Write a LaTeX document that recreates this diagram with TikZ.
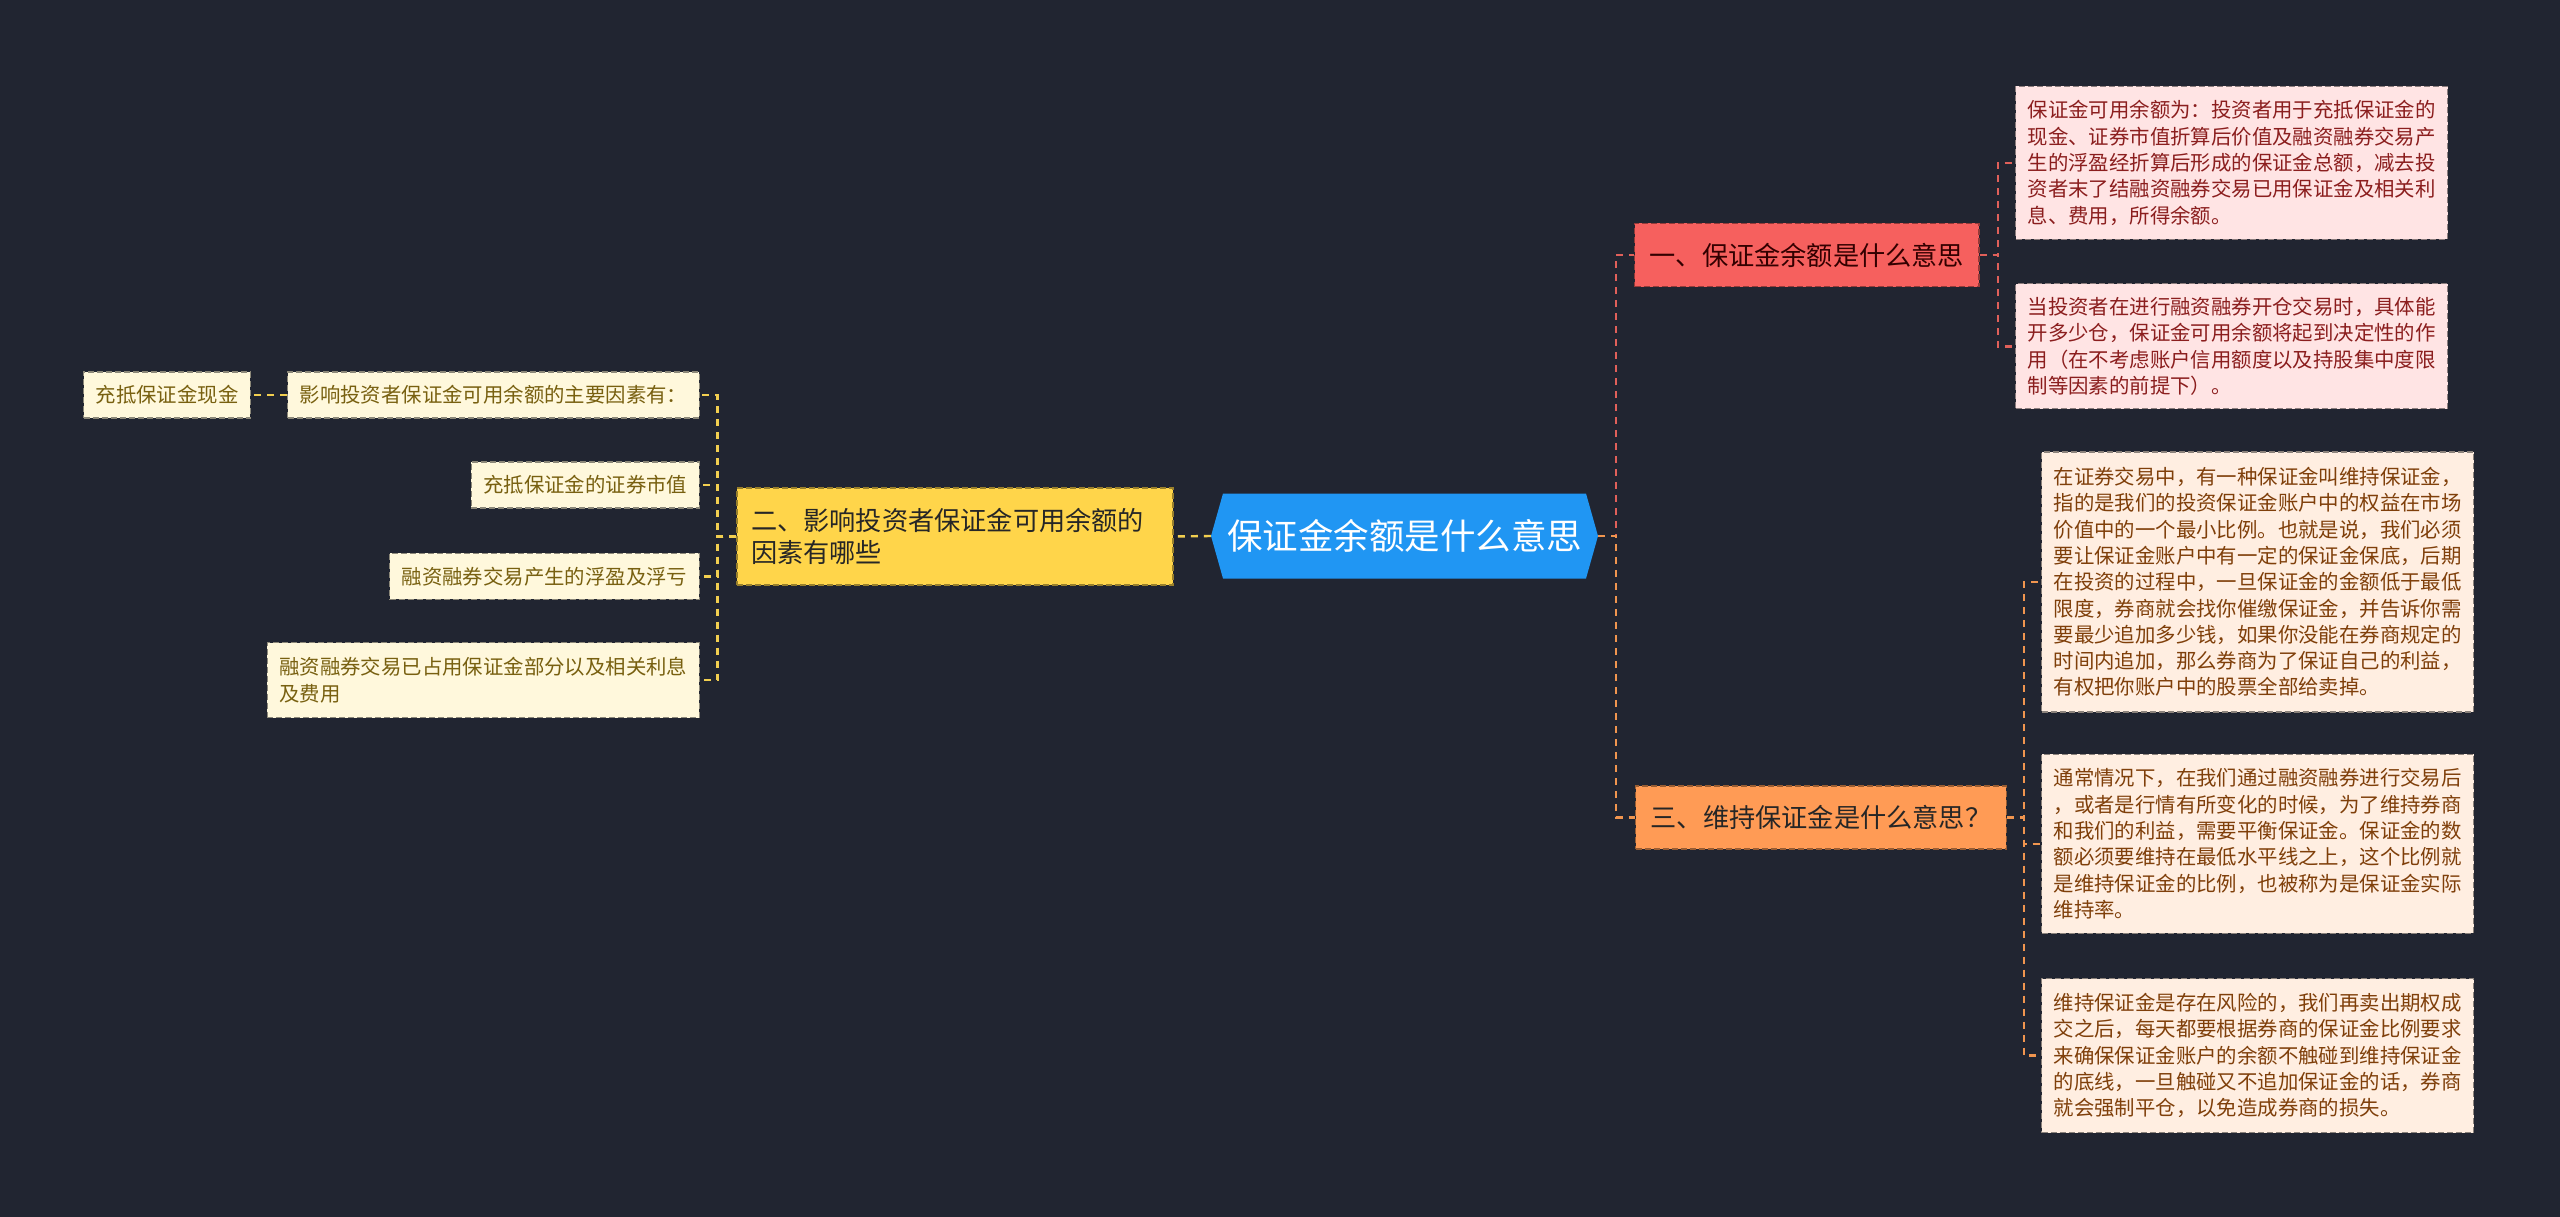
\documentclass[tikz,border=0pt]{standalone}
\usepackage{fontspec}
\setmainfont{Noto Sans CJK SC}
\usetikzlibrary{positioning}

\definecolor{bgcol}{HTML}{212531}
\definecolor{rootblue}{HTML}{2096F3}
\definecolor{redfill}{HTML}{F6605E}
\definecolor{orangefill}{HTML}{FF9B55}
\definecolor{yellowfill}{HTML}{FFD54A}
\definecolor{pinkfill}{HTML}{FFE4E4}
\definecolor{peachfill}{HTML}{FFEEE1}
\definecolor{creamfill}{HTML}{FFF8DC}
\definecolor{pinktext}{HTML}{8B1E1E}
\definecolor{peachtext}{HTML}{7F3F0A}
\definecolor{creamtext}{HTML}{786010}
\definecolor{redline}{HTML}{E0605A}
\definecolor{orangeline}{HTML}{F0954F}
\definecolor{yellowline}{HTML}{F2CF50}

\newcommand{\leaffont}{\fontsize{20.4}{26.3}\selectfont}
\newcommand{\topicfont}{\fontsize{26.2}{32}\selectfont}
\newcommand{\rootfont}{\fontsize{35.5}{40}\selectfont}

\begin{document}
\begin{tikzpicture}[x=1pt, y=-1pt,
        rootbox/.style={rectangle, minimum width=387pt, minimum height=85pt, inner sep=0pt, text=white, font=\rootfont,
            path picture={\fill[rootblue] (path picture bounding box.west) -- ([xshift=12pt]path picture bounding box.north west) -- ([xshift=-12pt]path picture bounding box.north east) -- (path picture bounding box.east) -- ([xshift=-12pt]path picture bounding box.south east) -- ([xshift=12pt]path picture bounding box.south west) -- cycle;}},
        topic/.style={rectangle, draw, dash pattern=on 6pt off 3pt, line width=1.3pt, inner xsep=15pt, inner ysep=0pt, minimum height=63pt, font=\topicfont},
        leaf/.style={rectangle, draw, dash pattern=on 6pt off 3pt, line width=1.3pt, inner xsep=12pt, inner ysep=0pt, align=left, font=\leaffont},
        pinkleaf/.style={leaf, fill=pinkfill, draw=pinkfill!55!black, text=pinktext},
        peachleaf/.style={leaf, fill=peachfill, draw=peachfill!55!black, text=peachtext},
        creamleaf/.style={leaf, fill=creamfill, draw=creamfill!55!black, text=creamtext, minimum height=46pt},
        link/.style={line width=2.4pt, dash pattern=on 7pt off 6pt},
        redlink/.style={link, draw=redline},
        orangelink/.style={link, draw=orangeline},
        yellowlink/.style={link, draw=yellowline}]

    \useasboundingbox (0,0) rectangle (2560,1217);
    \fill[bgcol] (0,0) rectangle (2560,1217);

    % centre
    \node[rootbox] (root) at (1404.5,536) {保证金余额是什么意思};

    % first level
    \node[topic, fill=redfill, draw=redfill!60!black, text=black!80!red, anchor=west] (margin) at (1634,255) {一、保证金余额是什么意思};
    \node[topic, fill=orangefill, draw=orangefill!60!black, text=black!85, anchor=west] (maint) at (1635,817.5) {三、维持保证金是什么意思？};
    \node[topic, fill=yellowfill, draw=yellowfill!60!black, text=black!85, minimum width=436pt, minimum height=97pt, inner xsep=14pt, text width=408pt, align=left] (factor) at (955,536.5) {二、影响投资者保证金可用余额的\\因素有哪些};

    % leaves of the first branch
    \node[pinkleaf, minimum height=153pt, anchor=west] (avail) at (2015,163) {保证金可用余额为：投资者用于充抵保证金的\\现金、证券市值折算后价值及融资融券交易产\\生的浮盈经折算后形成的保证金总额，减去投\\资者末了结融资融券交易已用保证金及相关利\\息、费用，所得余额。};
    \node[pinkleaf, minimum height=125pt, below=43pt of avail] (role) {当投资者在进行融资融券开仓交易时，具体能\\开多少仓，保证金可用余额将起到决定性的作\\用（在不考虑账户信用额度以及持股集中度限\\制等因素的前提下）。};

    % leaves of the third branch
    \node[peachleaf, minimum height=260pt, anchor=west] (define) at (2041,582) {在证券交易中，有一种保证金叫维持保证金，\\指的是我们的投资保证金账户中的权益在市场\\价值中的一个最小比例。也就是说，我们必须\\要让保证金账户中有一定的保证金保底，后期\\在投资的过程中，一旦保证金的金额低于最低\\限度，券商就会找你催缴保证金，并告诉你需\\要最少追加多少钱，如果你没能在券商规定的\\时间内追加，那么券商为了保证自己的利益，\\有权把你账户中的股票全部给卖掉。};
    \node[peachleaf, minimum height=179pt, below=41pt of define] (ratio) {通常情况下，在我们通过融资融券进行交易后\\，或者是行情有所变化的时候，为了维持券商\\和我们的利益，需要平衡保证金。保证金的数\\额必须要维持在最低水平线之上，这个比例就\\是维持保证金的比例，也被称为是保证金实际\\维持率。};
    \node[peachleaf, minimum height=154pt, below=44pt of ratio] (risk) {维持保证金是存在风险的，我们再卖出期权成\\交之后，每天都要根据券商的保证金比例要求\\来确保保证金账户的余额不触碰到维持保证金\\的底线，一旦触碰又不追加保证金的话，券商\\就会强制平仓，以免造成券商的损失。};

    % leaves of the second branch
    \node[creamleaf, anchor=east] (main) at (700,395) {影响投资者保证金可用余额的主要因素有：};
    \node[creamleaf, left=36pt of main] (cash) {充抵保证金现金};
    \node[creamleaf, anchor=east] (value) at (700,485) {充抵保证金的证券市值};
    \node[creamleaf, below=44pt of value.south east, anchor=north east] (float) {融资融券交易产生的浮盈及浮亏};
    \node[creamleaf, minimum height=75pt, below=42pt of float.south east, anchor=north east] (used) {融资融券交易已占用保证金部分以及相关利息\\及费用};

    % connectors
    \draw[redlink] (root.east) -- ++(18,0) |- (margin.west);
    \draw[orangelink] (root.east) -- ++(18,0) |- (maint.west);
    \draw[yellowlink] (root.west) -- (factor.east);

    \foreach \leafname in {avail,role}
        \draw[redlink] (margin.east) -- ++(18,0) |- (\leafname.west);
    \foreach \leafname in {define,ratio,risk}
        \draw[orangelink] (maint.east) -- ++(17,0) |- (\leafname.west);
    \foreach \leafname in {main,value,float,used}
        \draw[yellowlink] (factor.west) -- ++(-19,0) |- (\leafname.east);
    \draw[yellowlink] (main.west) -- (cash.east);

\end{tikzpicture}
\end{document}
